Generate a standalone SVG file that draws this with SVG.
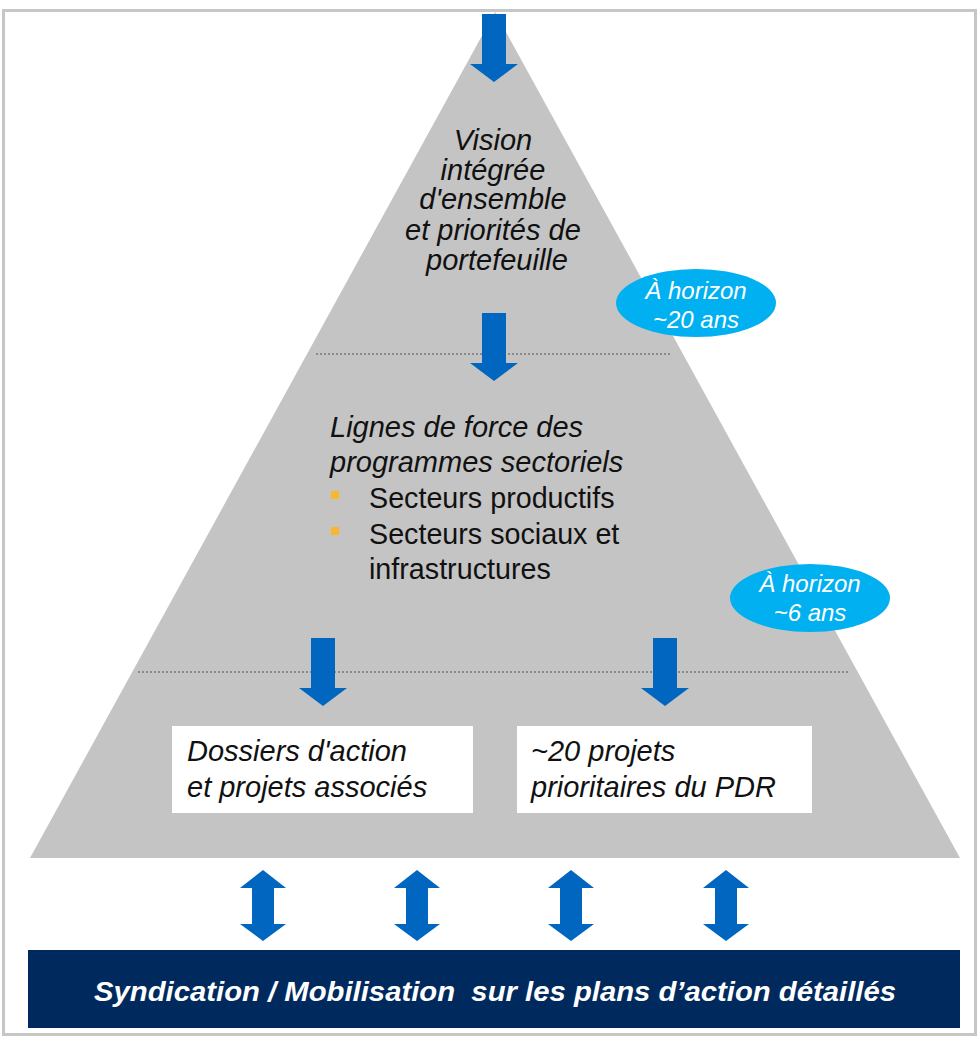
<svg xmlns="http://www.w3.org/2000/svg" width="979" height="1039" viewBox="0 0 979 1039">
<defs>
<style>
.it{font-family:"Liberation Sans",Arial,sans-serif;font-style:italic;font-size:29px;fill:#111}
.rg{font-family:"Liberation Sans",Arial,sans-serif;font-size:28.7px;fill:#111}
.bx{font-family:"Liberation Sans",Arial,sans-serif;font-style:italic;font-size:29px;fill:#111}
.el{font-family:"Liberation Sans",Arial,sans-serif;font-style:italic;font-size:24px;fill:#fff}
.arr{fill:#0066c0}
.dot{stroke:#8a8a8a;stroke-width:2;stroke-dasharray:2 2;fill:none}
.box{fill:#fff}
.bul{fill:#f7b731}
</style>
<path id="down" d="M-12,0 H12 V50 H24 L0,68 L-24,50 H-12 Z"/>
<path id="dbl" d="M0,0 L23,18 H11 V54 H23 L0,71 L-23,54 H-11 V18 H-23 Z"/>
</defs>
<rect x="0" y="0" width="979" height="1039" fill="#fff"/>
<rect x="3.5" y="10.5" width="972" height="1024" fill="#fff" stroke="#c6c6c6" stroke-width="3"/>
<g id="pyramid">
<polygon points="495,12 960,858 30,858" fill="#c4c4c4"/>
</g>
<g id="separators">
<line class="dot" x1="316" y1="354" x2="670" y2="354"/>
<line class="dot" x1="138" y1="672" x2="848" y2="672"/>
</g>
<g id="connectors">
<use href="#down" class="arr" x="494" y="14"/>
<use href="#down" class="arr" x="494" y="313"/>
<use href="#down" class="arr" x="323" y="638"/>
<use href="#down" class="arr" x="665" y="638"/>
<use href="#dbl" class="arr" x="263" y="870"/>
<use href="#dbl" class="arr" x="417" y="870"/>
<use href="#dbl" class="arr" x="571" y="870"/>
<use href="#dbl" class="arr" x="726" y="870"/>
</g>
<g id="vision">
<text class="it" text-anchor="middle">
<tspan x="497" y="150">Vision</tspan>
<tspan x="497" y="180">intégrée</tspan>
<tspan x="497" y="209">d'ensemble</tspan>
<tspan x="497" y="240">et priorités de</tspan>
<tspan x="497" y="270">portefeuille</tspan>
</text>
</g>
<g id="horizon20">
<ellipse cx="696" cy="303" rx="80" ry="34" fill="#00b0f0"/>
<text class="el" text-anchor="middle"><tspan x="696" y="299">À horizon</tspan><tspan x="696" y="328">~20 ans</tspan></text>
</g>
<g id="lignes">
<text class="it"><tspan x="330" y="437">Lignes de force des</tspan><tspan x="330" y="472">programmes sectoriels</tspan></text>
<rect class="bul" x="331" y="491" width="8" height="8"/>
<rect class="bul" x="331" y="527" width="8" height="8"/>
<text class="rg"><tspan x="369" y="508">Secteurs productifs</tspan><tspan x="369" y="544">Secteurs sociaux et</tspan><tspan x="369" y="579">infrastructures</tspan></text>
</g>
<g id="horizon6">
<ellipse cx="810" cy="598" rx="80" ry="34" fill="#00b0f0"/>
<text class="el" text-anchor="middle"><tspan x="810" y="592">À horizon</tspan><tspan x="810" y="621">~6 ans</tspan></text>
</g>
<g id="dossiers">
<rect class="box" x="172" y="726" width="301" height="87"/>
<text class="bx"><tspan x="187" y="761">Dossiers d'action</tspan><tspan x="187" y="797">et projets associés</tspan></text>
</g>
<g id="projets">
<rect class="box" x="517" y="726" width="295" height="87"/>
<text class="bx"><tspan x="531" y="761">~20 projets</tspan><tspan x="531" y="797">prioritaires du PDR</tspan></text>
</g>
<g id="syndication">
<rect x="28" y="950" width="932" height="78" fill="#002a5e"/>
<text x="495" y="1001" text-anchor="middle" font-family="'Liberation Sans',Arial,sans-serif" font-style="italic" font-weight="bold" font-size="27" fill="#fff" textLength="802" lengthAdjust="spacingAndGlyphs">Syndication / Mobilisation&#160; sur les plans d’action détaillés</text>
</g>
</svg>
